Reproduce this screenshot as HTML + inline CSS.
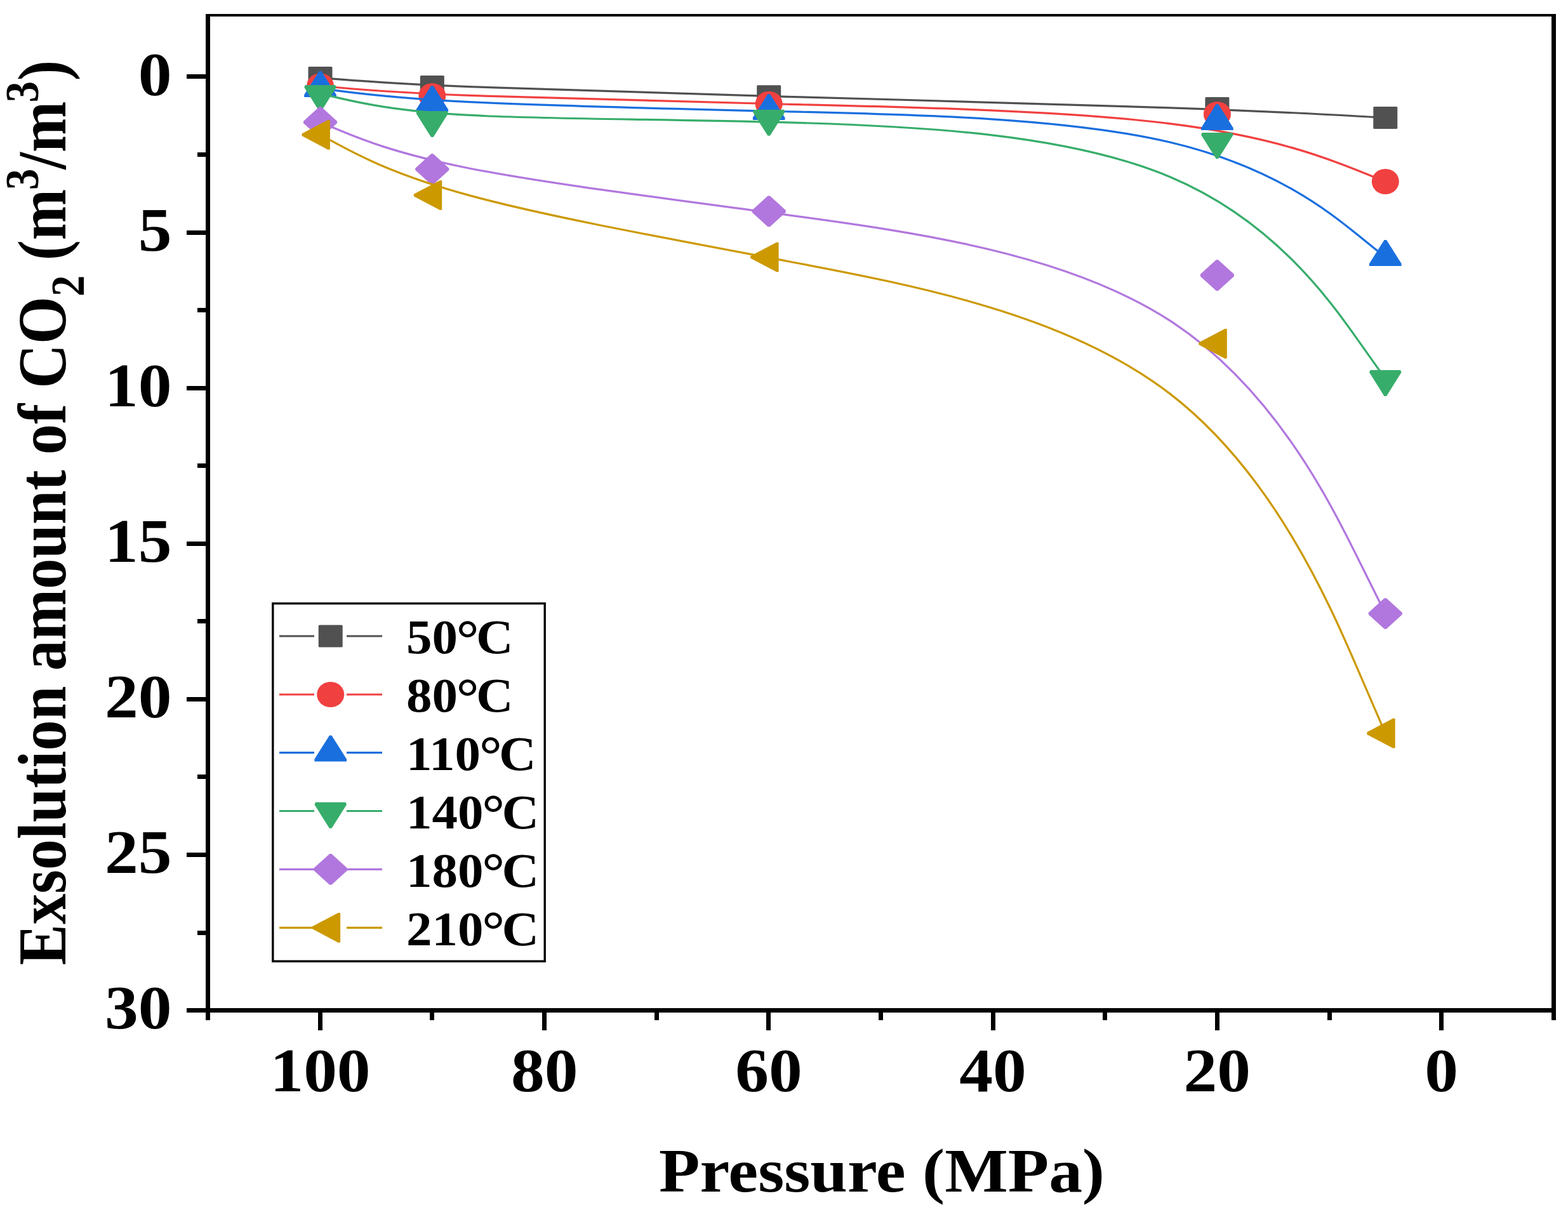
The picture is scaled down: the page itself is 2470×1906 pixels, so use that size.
<!DOCTYPE html>
<html lang="en"><head><meta charset="utf-8"><title>Exsolution amount of CO2 vs Pressure</title>
<style>html,body{margin:0;padding:0;background:#fff;}body{width:2470px;height:1906px;}svg{display:block;}text{font-family:'Liberation Serif','DejaVu Serif',serif;font-weight:bold;fill:#000;}</style>
</head><body>
<svg width="2470" height="1906" viewBox="0 0 2470 1906" role="img" aria-label="Exsolution amount of CO2 versus pressure at six temperatures">
<rect x="0" y="0" width="2470" height="1906" fill="#fff"/>
<g fill="#000" shape-rendering="crispEdges">
<rect x="324" y="22" width="2127" height="4"/>
<rect x="324" y="22" width="7" height="1585"/>
<rect x="2444" y="22" width="7" height="1585"/>
<rect x="294" y="1588" width="2157" height="7"/>
<rect x="501" y="1588" width="7" height="35"/>
<rect x="854" y="1588" width="7" height="35"/>
<rect x="1207" y="1588" width="7" height="35"/>
<rect x="1561" y="1588" width="7" height="35"/>
<rect x="1914" y="1588" width="7" height="35"/>
<rect x="2267" y="1588" width="7" height="35"/>
<rect x="677" y="1588" width="7" height="19"/>
<rect x="1031" y="1588" width="7" height="19"/>
<rect x="1384" y="1588" width="7" height="19"/>
<rect x="1737" y="1588" width="7" height="19"/>
<rect x="2091" y="1588" width="7" height="19"/>
<rect x="294" y="117" width="37" height="7"/>
<rect x="294" y="363" width="37" height="7"/>
<rect x="294" y="608" width="37" height="7"/>
<rect x="294" y="853" width="37" height="7"/>
<rect x="294" y="1098" width="37" height="7"/>
<rect x="294" y="1343" width="37" height="7"/>
<rect x="311" y="240" width="20" height="7"/>
<rect x="311" y="485" width="20" height="7"/>
<rect x="311" y="730" width="20" height="7"/>
<rect x="311" y="975" width="20" height="7"/>
<rect x="311" y="1220" width="20" height="7"/>
<rect x="311" y="1466" width="20" height="7"/>
</g>
<text transform="translate(504.5 1719) scale(1.082 1)" font-size="97.5" text-anchor="middle">100</text>
<text transform="translate(857.7 1719) scale(1.082 1)" font-size="97.5" text-anchor="middle">80</text>
<text transform="translate(1210.9 1719) scale(1.082 1)" font-size="97.5" text-anchor="middle">60</text>
<text transform="translate(1564.1 1719) scale(1.082 1)" font-size="97.5" text-anchor="middle">40</text>
<text transform="translate(1917.3 1719) scale(1.082 1)" font-size="97.5" text-anchor="middle">20</text>
<text transform="translate(2270.5 1719) scale(1.082 1)" font-size="97.5" text-anchor="middle">0</text>
<text transform="translate(270.5 149.5) scale(1.082 1)" font-size="97.5" text-anchor="end">0</text>
<text transform="translate(270.5 394.67) scale(1.082 1)" font-size="97.5" text-anchor="end">5</text>
<text transform="translate(270.5 639.83) scale(1.082 1)" font-size="97.5" text-anchor="end">10</text>
<text transform="translate(270.5 885) scale(1.082 1)" font-size="97.5" text-anchor="end">15</text>
<text transform="translate(270.5 1130.16) scale(1.082 1)" font-size="97.5" text-anchor="end">20</text>
<text transform="translate(270.5 1375.33) scale(1.082 1)" font-size="97.5" text-anchor="end">25</text>
<text transform="translate(270.5 1620.49) scale(1.082 1)" font-size="97.5" text-anchor="end">30</text>
<text transform="translate(1389 1876.5) scale(1.082 1)" font-size="97.5" text-anchor="middle">Pressure (MPa)</text>
<text transform="translate(103 1520.4) scale(1.108 1) rotate(-90)" font-size="96.5" text-anchor="start">Exsolution amount of CO<tspan font-size="67" dy="26.3">2</tspan><tspan dy="-26.3" dx="-1"> (m</tspan><tspan font-size="67" dy="-38.4" dx="-1.5">3</tspan><tspan dy="38.4" dx="-1">/m</tspan><tspan font-size="67" dy="-38.4" dx="-2">3</tspan><tspan dy="38.4" dx="1">)</tspan></text>
<g>
<path d="M504.5 122.5 C504.5 122.5 504.5 122.5 533.88 124.83 C563.27 127.17 622.03 131.83 739.82 136.7 C857.6 141.57 1034.4 146.63 1240.5 152.3 C1446.6 157.97 1682 164.23 1843.85 169.87 C2005.7 175.5 2094 180.5 2138.15 183 C2182.3 185.5 2182.3 185.5 2182.3 185.5" fill="none" stroke="#515151" stroke-width="3.2" stroke-linecap="butt" stroke-linejoin="round"/>
<rect x="485.5" y="105" width="38" height="35" rx="1.5" ry="1.5" fill="#515151"/>
<rect x="661.8" y="119" width="38" height="35" rx="1.5" ry="1.5" fill="#515151"/>
<rect x="1192.2" y="134.2" width="38" height="35" rx="1.5" ry="1.5" fill="#515151"/>
<rect x="1898.4" y="153" width="38" height="35" rx="1.5" ry="1.5" fill="#515151"/>
<rect x="2163.3" y="168" width="38" height="35" rx="1.5" ry="1.5" fill="#515151"/>
</g>
<g>
<path d="M504.5 135.4 C504.5 135.4 504.5 135.4 533.88 137.98 C563.27 140.57 622.03 145.73 739.82 150.45 C857.6 155.17 1034.4 159.43 1240.5 164.27 C1446.6 169.1 1682 174.5 1843.85 194.88 C2005.7 215.27 2094 250.63 2138.15 268.32 C2182.3 286 2182.3 286 2182.3 286" fill="none" stroke="#F14040" stroke-width="3.2" stroke-linecap="butt" stroke-linejoin="round"/>
<ellipse cx="504.5" cy="135.4" rx="21.5" ry="20" fill="#F14040"/>
<ellipse cx="680.8" cy="150.9" rx="21.5" ry="20" fill="#F14040"/>
<ellipse cx="1211.2" cy="163.7" rx="21.5" ry="20" fill="#F14040"/>
<ellipse cx="1917.4" cy="179.9" rx="21.5" ry="20" fill="#F14040"/>
<ellipse cx="2182.3" cy="286" rx="21.5" ry="20" fill="#F14040"/>
</g>
<g>
<path d="M504.5 139.2 C504.5 139.2 504.5 139.2 533.88 143.05 C563.27 146.9 622.03 154.6 739.82 160.6 C857.6 166.6 1034.4 170.9 1240.5 175.73 C1446.6 180.57 1682 185.93 1843.85 224.27 C2005.7 262.6 2094 333.9 2138.15 369.55 C2182.3 405.2 2182.3 405.2 2182.3 405.2" fill="none" stroke="#1A6FDF" stroke-width="3.2" stroke-linecap="butt" stroke-linejoin="round"/>
<polygon points="502.7,111.9 506.3,111.9 529.8,149.3 529.8,152.9 479.2,152.9 479.2,149.3" fill="#1A6FDF"/>
<polygon points="679,135 682.6,135 706.1,172.4 706.1,176 655.5,176 655.5,172.4" fill="#1A6FDF"/>
<polygon points="1209.4,147.9 1213,147.9 1236.5,185.3 1236.5,188.9 1185.9,188.9 1185.9,185.3" fill="#1A6FDF"/>
<polygon points="1915.6,164 1919.2,164 1942.7,201.4 1942.7,205 1892.1,205 1892.1,201.4" fill="#1A6FDF"/>
<polygon points="2180.5,377.9 2184.1,377.9 2207.6,415.3 2207.6,418.9 2157,418.9 2157,415.3" fill="#1A6FDF"/>
</g>
<g>
<path d="M504.5 147.6 C504.5 147.6 504.5 147.6 533.88 154.43 C563.27 161.27 622.03 174.93 739.82 181.42 C857.6 187.9 1034.4 187.2 1240.5 192.87 C1446.6 198.53 1682 210.57 1843.85 278.93 C2005.7 347.3 2094 472 2138.15 534.35 C2182.3 596.7 2182.3 596.7 2182.3 596.7" fill="none" stroke="#37AD6B" stroke-width="3.2" stroke-linecap="butt" stroke-linejoin="round"/>
<polygon points="479.2,137.5 480.7,133.9 528.3,133.9 529.8,137.5 506.3,174.9 502.7,174.9" fill="#37AD6B"/>
<polygon points="655.5,178.5 657,174.9 704.6,174.9 706.1,178.5 682.6,215.9 679,215.9" fill="#37AD6B"/>
<polygon points="1185.9,176.4 1187.4,172.8 1235,172.8 1236.5,176.4 1213,213.8 1209.4,213.8" fill="#37AD6B"/>
<polygon points="1892.1,212.5 1893.6,208.9 1941.2,208.9 1942.7,212.5 1919.2,249.9 1915.6,249.9" fill="#37AD6B"/>
<polygon points="2157,586.6 2158.5,583 2206.1,583 2207.6,586.6 2184.1,624 2180.5,624" fill="#37AD6B"/>
</g>
<g>
<path d="M504.5 192.5 C504.5 192.5 504.5 192.5 533.88 204.83 C563.27 217.17 622.03 241.83 739.82 265.23 C857.6 288.63 1034.4 310.77 1240.5 338.62 C1446.6 366.47 1682 400.03 1843.85 505.63 C2005.7 611.23 2094 788.87 2138.15 877.68 C2182.3 966.5 2182.3 966.5 2182.3 966.5" fill="none" stroke="#B177DE" stroke-width="3.2" stroke-linecap="butt" stroke-linejoin="round"/>
<polygon points="502.9,168.2 506.1,168.2 531.1,190.9 531.1,194.1 506.1,216.8 502.9,216.8 477.9,194.1 477.9,190.9" fill="#B177DE"/>
<polygon points="679.2,242.2 682.4,242.2 707.4,264.9 707.4,268.1 682.4,290.8 679.2,290.8 654.2,268.1 654.2,264.9" fill="#B177DE"/>
<polygon points="1209.6,308.6 1212.8,308.6 1237.8,331.3 1237.8,334.5 1212.8,357.2 1209.6,357.2 1184.6,334.5 1184.6,331.3" fill="#B177DE"/>
<polygon points="1915.8,409.3 1919,409.3 1944,432 1944,435.2 1919,457.9 1915.8,457.9 1890.8,435.2 1890.8,432" fill="#B177DE"/>
<polygon points="2180.7,942.2 2183.9,942.2 2208.9,964.9 2208.9,968.1 2183.9,990.8 2180.7,990.8 2155.7,968.1 2155.7,964.9" fill="#B177DE"/>
</g>
<g>
<path d="M504.5 212.3 C504.5 212.3 504.5 212.3 533.88 228.17 C563.27 244.03 622.03 275.77 739.82 307.88 C857.6 340 1034.4 372.5 1240.5 411.47 C1446.6 450.43 1682 495.87 1843.85 620.88 C2005.7 745.9 2094 950.5 2138.15 1052.8 C2182.3 1155.1 2182.3 1155.1 2182.3 1155.1" fill="none" stroke="#CC9900" stroke-width="3.2" stroke-linecap="butt" stroke-linejoin="round"/>
<polygon points="475.5,210.5 516.9,188.7 519.9,189.3 519.9,235.3 516.9,235.9 475.5,214.1" fill="#CC9900"/>
<polygon points="651.8,305.7 693.2,283.9 696.2,284.5 696.2,330.5 693.2,331.1 651.8,309.3" fill="#CC9900"/>
<polygon points="1182.2,403.2 1223.6,381.4 1226.6,382 1226.6,428 1223.6,428.6 1182.2,406.8" fill="#CC9900"/>
<polygon points="1888.4,539.5 1929.8,517.7 1932.8,518.3 1932.8,564.3 1929.8,564.9 1888.4,543.1" fill="#CC9900"/>
<polygon points="2153.3,1153.3 2194.7,1131.5 2197.7,1132.1 2197.7,1178.1 2194.7,1178.7 2153.3,1156.9" fill="#CC9900"/>
</g>
<rect x="429.8" y="950.6" width="428.4" height="563.6" fill="#fff" stroke="#000" stroke-width="3.4"/>
<path d="M440 1002 H495 M546 1002 H602" stroke="#515151" stroke-width="3.2" fill="none"/>
<rect x="501.7" y="984.5" width="38" height="35" rx="1.5" ry="1.5" fill="#515151"/>
<text transform="translate(640 1029.2) scale(1.066 1)" font-size="76" text-anchor="start">50<tspan font-size="84" dx="-2" dy="5.4">°</tspan><tspan dx="-4.5" dy="-5.4">C</tspan></text>
<path d="M440 1094 H495 M546 1094 H602" stroke="#F14040" stroke-width="3.2" fill="none"/>
<ellipse cx="520.7" cy="1094" rx="21.5" ry="20" fill="#F14040"/>
<text transform="translate(640 1121.2) scale(1.066 1)" font-size="76" text-anchor="start">80<tspan font-size="84" dx="-2" dy="5.4">°</tspan><tspan dx="-4.5" dy="-5.4">C</tspan></text>
<path d="M440 1185.7 H495 M546 1185.7 H602" stroke="#1A6FDF" stroke-width="3.2" fill="none"/>
<polygon points="518.9,1158.4 522.5,1158.4 546,1195.8 546,1199.4 495.4,1199.4 495.4,1195.8" fill="#1A6FDF"/>
<text transform="translate(640 1212.9) scale(1.066 1)" font-size="76" text-anchor="start">110<tspan font-size="84" dx="-2" dy="5.4">°</tspan><tspan dx="-4.5" dy="-5.4">C</tspan></text>
<path d="M440 1277.5 H495 M546 1277.5 H602" stroke="#37AD6B" stroke-width="3.2" fill="none"/>
<polygon points="495.4,1267.4 496.9,1263.8 544.5,1263.8 546,1267.4 522.5,1304.8 518.9,1304.8" fill="#37AD6B"/>
<text transform="translate(640 1304.7) scale(1.066 1)" font-size="76" text-anchor="start">140<tspan font-size="84" dx="-2" dy="5.4">°</tspan><tspan dx="-4.5" dy="-5.4">C</tspan></text>
<path d="M440 1369.4 H497 M545 1369.4 H602" stroke="#B177DE" stroke-width="3.2" fill="none"/>
<polygon points="519.1,1345.1 522.3,1345.1 547.3,1367.8 547.3,1371 522.3,1393.7 519.1,1393.7 494.1,1371 494.1,1367.8" fill="#B177DE"/>
<text transform="translate(640 1396.6) scale(1.066 1)" font-size="76" text-anchor="start">180<tspan font-size="84" dx="-2" dy="5.4">°</tspan><tspan dx="-4.5" dy="-5.4">C</tspan></text>
<path d="M440 1461.3 H495 M546 1461.3 H602" stroke="#CC9900" stroke-width="3.2" fill="none"/>
<polygon points="491.7,1459.5 533.1,1437.7 536.1,1438.3 536.1,1484.3 533.1,1484.9 491.7,1463.1" fill="#CC9900"/>
<text transform="translate(640 1488.5) scale(1.066 1)" font-size="76" text-anchor="start">210<tspan font-size="84" dx="-2" dy="5.4">°</tspan><tspan dx="-4.5" dy="-5.4">C</tspan></text>
</svg>
</body></html>
